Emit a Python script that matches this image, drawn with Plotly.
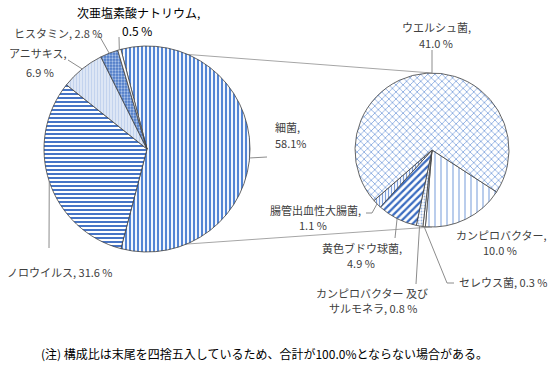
import math
import plotly.graph_objects as go

# ---------------- data ----------------
main_labels = ["細菌", "ノロウイルス", "アニサキス", "ヒスタミン", "次亜塩素酸ナトリウム"]
main_values = [58.1, 31.6, 6.9, 2.8, 0.5]

sub_labels = ["カンピロバクター", "セレウス菌", "カンピロバクター及びサルモネラ",
              "黄色ブドウ球菌", "腸管出血性大腸菌", "ウエルシュ菌"]
sub_values = [10.0, 0.3, 0.8, 4.9, 1.1, 41.0]

note_text = "(注) 構成比は末尾を四捨五入しているため、合計が100.0%とならない場合がある。"

# ---------------- layout / style ----------------
W, H = 550, 370
FONT = "Noto Sans CJK JP"
TXT = "#404040"
L_C, L_R = (147, 149), 103
R_C, R_R = (432, 150), 77
RIGHT_ROT = 123.0

def P(x, y):
    return x / W, 1 - y / H

def domain(c, r):
    return dict(x=[(c[0] - r) / W, (c[0] + r) / W], y=[1 - (c[1] + r) / H, 1 - (c[1] - r) / H])

def edge(c, r, ang):
    a = math.radians(ang)
    return c[0] + r * math.sin(a), c[1] - r * math.cos(a)

main_total = sum(main_values)
sub_total = sum(sub_values)
left_rot = 90 - main_values[0] / main_total * 180

main_pat = dict(
    shape=["|", "-", "|", ".", ""],
    fgcolor=["#5485d4", "#4674c6", "#c3d3ee", "#a9c1e8", "#ffffff"],
    bgcolor=["#f2f6fc", "#ffffff", "#e6edf8", "#4a78c6", "#ffffff"],
    size=[4, 4, 3, 3, 4],
    solidity=[0.5, 0.5, 0.5, 0.45, 0.2],
    fillmode="replace",
)
sub_pat = dict(
    shape=["|", "", ".", "/", "|", "x"],
    fgcolor=["#7fa3dc", "#ffffff", "#9db8e4", "#3a6bc0", "#7fa0da", "#5484d2"],
    bgcolor=["#ffffff", "#ffffff", "#ffffff", "#ffffff", "#ffffff", "#ffffff"],
    size=[6, 4, 3, 5, 3, 5],
    solidity=[0.18, 0.2, 0.3, 0.45, 0.4, 0.22],
    fillmode="replace",
)

fig = go.Figure()
fig.add_trace(go.Pie(
    labels=main_labels, values=main_values, sort=False, direction="clockwise",
    rotation=left_rot, textinfo="none", hoverinfo="skip", showlegend=False,
    domain=domain(L_C, L_R),
    marker=dict(colors=main_pat["bgcolor"], line=dict(color="#404040", width=0.8), pattern=main_pat),
))
fig.add_trace(go.Pie(
    labels=sub_labels, values=sub_values, sort=False, direction="clockwise",
    rotation=RIGHT_ROT, textinfo="none", hoverinfo="skip", showlegend=False,
    domain=domain(R_C, R_R),
    marker=dict(colors=sub_pat["bgcolor"], line=dict(color="#404040", width=0.8), pattern=sub_pat),
))

shapes = []
# connector lines from split slice to secondary pie
lt = edge(L_C, L_R, left_rot)
lb = edge(L_C, L_R, left_rot + main_values[0] / main_total * 360)
rt = edge(R_C, R_R, 0)
rb = edge(R_C, R_R, 180)
for a, b in [(lt, rt), (lb, rb)]:
    x0, y0 = P(*a); x1, y1 = P(*b)
    shapes.append(dict(type="line", xref="paper", yref="paper", x0=x0, y0=y0, x1=x1, y1=y1,
                       line=dict(color="#a6a6a6", width=1), layer="below"))

def mids(values, total, rot):
    out, acc = [], rot
    for v in values:
        span = v / total * 360
        out.append(acc + span / 2)
        acc += span
    return out

main_mid = mids(main_values, main_total, left_rot)
sub_mid = mids(sub_values, sub_total, RIGHT_ROT)

# label layout: (lines[(template, x, y, anchor)], leader waypoints, start-angle override, font size, color)
main_lab = [
    ([("{n},", 273, 127, "left"), ("{v}%", 273, 143, "left")], [(267, 157)], 95, 11, TXT),
    ([("{n}, {v} %", 5, 272, "left")], [(49, 248)], None, 11, TXT),
    ([("{n},", 38, 53, "center"), ("{v} %", 40, 72, "center")], [(68, 60)], None, 11, TXT),
    ([("{n}, {v} %", 12, 33, "left")], [(100, 37), (97, 37)], None, 11, TXT),
    ([("{n},", 138, 13, "center"), ("{v} %", 137, 30, "center")], [(119, 37)], None, 12, "#000000"),
]
sub_lab = [
    ([("{n},", 501, 235, "center"), ("{v} %", 500, 250, "center")], [], None, 11, TXT),
    ([("{n}, {v} %", 457, 282, "left")], [(447, 283), (454, 283)], None, 11, TXT),
    ([("カンピロバクター 及び", 372, 293, "center"), ("サルモネラ, {v} %", 373, 308, "center")], [(416, 284)], None, 11, TXT),
    ([("{n},", 362, 248, "center"), ("{v} %", 361, 263, "center")], [(395, 238)], None, 11, TXT),
    ([("{n},", 315, 210, "center"), ("{v} %", 313, 225, "center")], [(372, 213), (366, 213)], None, 11, TXT),
    ([("{n},", 436, 27, "center"), ("{v} %", 436, 43, "center")], [(432, 50)], 0, 11, TXT),
]

annotations = []
def add_labels(names, values, mid, c, r, spec):
    for n, v, m, (lines, way, ang, fs, col) in zip(names, values, mid, spec):
        for tpl, x, y, anc in lines:
            xp, yp = P(x, y)
            annotations.append(dict(text=tpl.format(n=n, v=f"{v:.1f}"), x=xp, y=yp, xref="paper", yref="paper",
                                    xanchor=anc, yanchor="middle", showarrow=False,
                                    font=dict(family=FONT, size=fs, color=col)))
        if way:
            pts = [edge(c, r, m if ang is None else ang)] + way
            path = "M " + " L ".join(f"{P(*p)[0]},{P(*p)[1]}" for p in pts)
            shapes.append(dict(type="path", xref="paper", yref="paper", path=path,
                               line=dict(color="#8c8c8c", width=1), layer="above"))

add_labels(main_labels, main_values, main_mid, L_C, L_R, main_lab)
add_labels(sub_labels, sub_values, sub_mid, R_C, R_R, sub_lab)

nx, ny = P(264, 353)
annotations.append(dict(text=note_text, x=nx, y=ny, xref="paper", yref="paper", xanchor="center",
                        yanchor="middle", showarrow=False, font=dict(family=FONT, size=12, color="#000000")))

fig.update_layout(
    width=W, height=H, margin=dict(l=0, r=0, t=0, b=0),
    paper_bgcolor="#ffffff", plot_bgcolor="#ffffff",
    shapes=shapes, annotations=annotations, showlegend=False,
)
fig.write_html("out.html", config={"displayModeBar": False},
               post_script="document.body.style.margin='0';document.body.style.overflow='hidden';")
